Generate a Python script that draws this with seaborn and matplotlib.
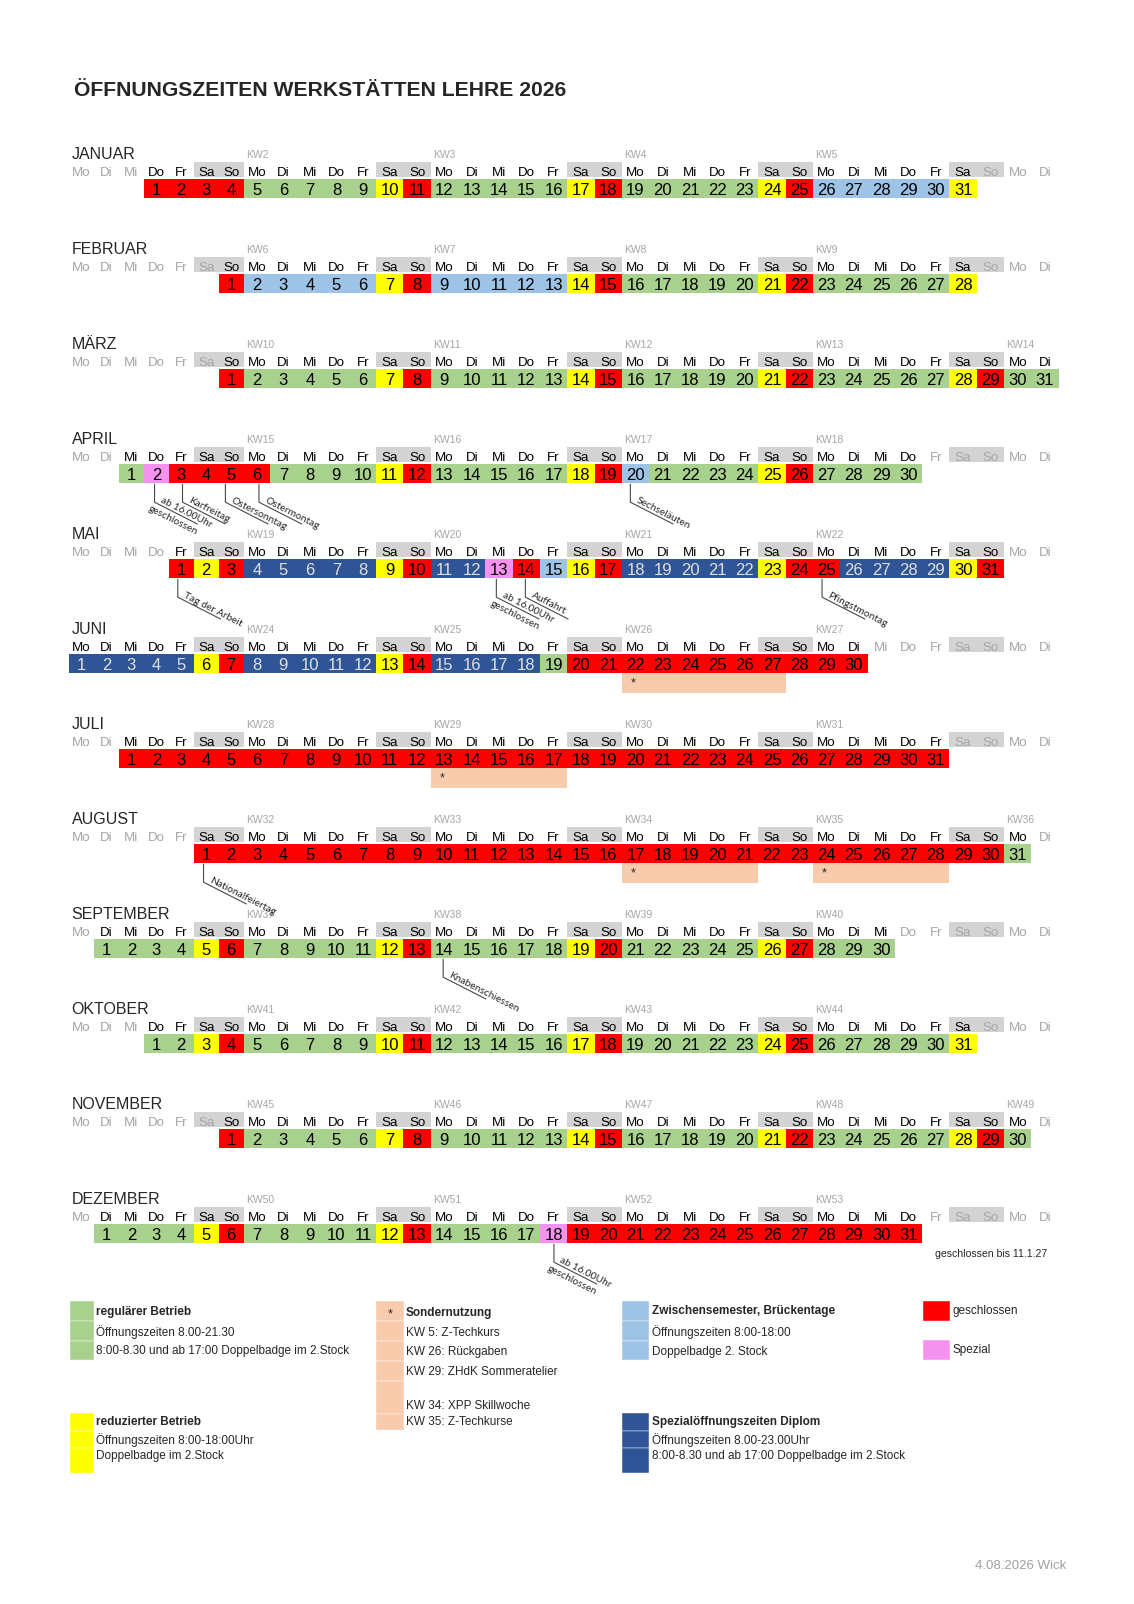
import numpy as np
import pandas as pd
import seaborn as sns
import matplotlib
matplotlib.use('Agg')
import matplotlib.pyplot as plt

# --- data -----------------------------------------------------------------
months = ['JANUAR', 'FEBRUAR', 'MÄRZ', 'APRIL', 'MAI', 'JUNI', 'JULI',
          'AUGUST', 'SEPTEMBER', 'OKTOBER', 'NOVEMBER', 'DEZEMBER']
first_weekday = [3, 6, 6, 2, 4, 0, 2, 5, 1, 3, 6, 1]   # Mo=0 of the 1st
weekday_names = ['Mo', 'Di', 'Mi', 'Do', 'Fr', 'Sa', 'So']

# one letter per day: G regulär, Y reduziert, R geschlossen,
# B Zwischensemester, D Diplom, P Spezial
day_status = [
    'RRRRGGGGGYRGGGGGYRGGGGGYRBBBBBY',
    'RBBBBBYRBBBBBYRGGGGGYRGGGGGY',
    'RGGGGGYRGGGGGYRGGGGGYRGGGGGYRGG',
    'GPRRRRGGGGYRGGGGGYRBGGGGYRGGGG',
    'RYRDDDDDYRDDPRBYRDDDDDYRRDDDDYR',
    'DDDDDYRDDDDDYRDDDDGRRRRRRRRRRR',
    'RRRRRRRRRRRRRRRRRRRRRRRRRRRRRRR',
    'RRRRRRRRRRRRRRRRRRRRRRRRRRRRRRG',
    'GGGGYRGGGGGYRGGGGGYRGGGGGYRGGG',
    'GGYRGGGGGYRGGGGGYRGGGGGYRGGGGGY',
    'RGGGGGYRGGGGGYRGGGGGYRGGGGGYRG',
    'GGGGYRGGGGGYRGGGGPRRRRRRRRRRRRR',
]

kw_numbers = [[2, 3, 4, 5], [6, 7, 8, 9], [10, 11, 12, 13, 14], [15, 16, 17, 18],
              [19, 20, 21, 22], [24, 25, 26, 27], [28, 29, 30, 31],
              [32, 33, 34, 35, 36], [37, 38, 39, 40], [41, 42, 43, 44],
              [45, 46, 47, 48, 49], [50, 51, 52, 53]]

# Sondernutzung: month index, first day, last day
special_use_month = [5, 6, 7, 7]
special_use_from = [22, 13, 17, 24]
special_use_to = [27, 17, 21, 28]

# notes below single days: month index, day, text, second line
note_month = [3, 3, 3, 3, 3, 4, 4, 4, 4, 7, 8, 11]
note_day = [2, 3, 5, 6, 20, 1, 13, 14, 25, 1, 14, 18]
note_text = ['ab 16.00Uhr', 'Karfreitag', 'Ostersonntag', 'Ostermontag',
             'Sechseläuten', 'Tag der Arbeit', 'ab 16.00Uhr', 'Auffahrt',
             'Pfingstmontag', 'Nationalfeiertag', 'Knabenschiessen',
             'ab 16.00Uhr']
note_text2 = ['geschlossen', '', '', '', '', '', 'geschlossen', '', '', '', '',
              'geschlossen']

legend_regular = ['regulärer Betrieb', 'Öffnungszeiten 8.00-21.30',
                  '8:00-8.30 und ab 17:00 Doppelbadge im 2.Stock']
legend_reduced = ['reduzierter Betrieb', 'Öffnungszeiten 8:00-18:00Uhr',
                  'Doppelbadge im 2.Stock']
legend_special = ['Sondernutzung', 'KW 5: Z-Techkurs', 'KW 26: Rückgaben',
                  'KW 29: ZHdK Sommeratelier', 'KW 34: XPP Skillwoche',
                  'KW 35: Z-Techkurse']
legend_between = ['Zwischensemester, Brückentage', 'Öffnungszeiten 8:00-18:00',
                  'Doppelbadge 2. Stock']
legend_diplom = ['Spezialöffnungszeiten Diplom', 'Öffnungszeiten 8.00-23.00Uhr',
                 '8:00-8.30 und ab 17:00 Doppelbadge im 2.Stock']

# --- style ----------------------------------------------------------------
sns.set_theme(style='white')
plt.rcParams['font.family'] = ['Liberation Sans', 'DejaVu Sans']

colors = {'G': '#A9D18E', 'Y': '#FFFF00', 'R': '#FF0000', 'B': '#9DC3E6',
          'D': '#2F5597', 'P': '#F592F0'}
salmon = '#F8CBAD'
head_gray = '#D3D3D3'
text_gray = '#A6A6A6'

# where the leader line leaves each noted cell (px from cell's left edge)
note_dx = [10.7, 13.7, 6.7, 15.3, 8.5, 9, 11, 12.7, 9.1, 9.8, 12.4, 14]

fig = plt.figure(figsize=(11.34, 16.04), dpi=100)
ax = fig.add_axes([0, 0, 1, 1])
ax.set_xlim(0, 1134)
ax.set_ylim(1604, 0)
ax.axis('off')

col_w = np.array([24.95] * 7 + [26.5] * 5 + [27.3] * 25)
col_left = 69 + np.concatenate([[0], np.cumsum(col_w)[:-1]])
col_mid = col_left + col_w / 2
weekend = np.array([c for c in range(37) if c % 7 in (5, 6)])

# table of all days
rows = []
for m, s in enumerate(day_status):
    for d, code in enumerate(s, start=1):
        rows.append({'month': m, 'day': d, 'col': first_weekday[m] + d - 1,
                     'status': code})
days = pd.DataFrame(rows)

row0 = 169.7
step = 95.0


def base(m):
    return row0 + step * m


ax.text(74, 96, 'ÖFFNUNGSZEITEN WERKSTÄTTEN LEHRE 2026', fontsize=15.2,
        fontweight='bold', va='baseline', ha='left')

for m, name in enumerate(months):
    b = base(m)
    ax.text(71.5, b - 11, name, fontsize=11.5, va='baseline', ha='left')
    for k, kw in enumerate(kw_numbers[m]):
        c = 7 * (k + 1)
        ax.text(col_left[c] + 2.5, b - 11.5, f'KW{kw}', fontsize=7.5,
                color=text_gray, va='baseline', ha='left')
    # weekday header
    ax.bar(col_left[weekend], 15.3, width=col_w[weekend], bottom=b - 7.7,
           align='edge', color=head_gray, linewidth=0)
    first = first_weekday[m]
    last = first + len(day_status[m]) - 1
    for c in range(37):
        inside = first <= c <= last
        ax.text(col_mid[c], b + 6, weekday_names[c % 7], fontsize=9.6,
                color='black' if inside else text_gray, ha='center',
                va='baseline')
    # day cells
    md = days[days.month == m]
    ax.bar(col_left[md.col], 19.3, width=col_w[md.col], bottom=b + 9.3,
           align='edge', color=[colors[s] for s in md.status], linewidth=0)
    for _, r in md.iterrows():
        ax.text(col_mid[r.col], b + 25.6, str(r.day), fontsize=12,
                color='#E0E0E0' if r.status == 'D' else 'black',
                ha='center', va='baseline')

# Sondernutzung bars
for m, d0, d1 in zip(special_use_month, special_use_from, special_use_to):
    b = base(m)
    c0 = first_weekday[m] + d0 - 1
    c1 = first_weekday[m] + d1 - 1
    ax.bar(col_left[c0], 19.4, width=col_left[c1] + col_w[c1] - col_left[c0],
           bottom=b + 28.6, align='edge', color=salmon, linewidth=0)
    ax.text(col_mid[c0] - 2, b + 42, '*', fontsize=9, ha='center',
            va='baseline')

# notes with leader lines
ang = np.deg2rad(27)
note_font = ['Lato', 'DejaVu Sans']
for m, d, t1, t2, dx in zip(note_month, note_day, note_text, note_text2,
                            note_dx):
    b = base(m)
    c = first_weekday[m] + d - 1
    x0 = col_left[c] + dx
    y0 = b + 29.5
    y1 = y0 + 18
    length = 48
    x2 = x0 + length * np.cos(ang)
    y2 = y1 + length * np.sin(ang)
    ax.plot([x0, x0, x2], [y0, y1, y2], color='#4a4a4a', lw=0.8)
    tx = x0 + 5 * np.cos(ang)
    ty = y1 + 5 * np.sin(ang) - 0.5
    ax.text(tx, ty, t1, rotation=-27, rotation_mode='anchor', ha='left',
            va='bottom', fontsize=7.4, family=note_font, color='#262626')
    if t2:
        ax.text(x0 - 4, y1 + 2, t2, rotation=-27, rotation_mode='anchor',
                ha='left', va='top', fontsize=7.4, family=note_font,
                color='#262626')

ax.text(935, 1254.3, 'geschlossen bis 11.1.27', fontsize=7.6, ha='left',
        va='center')


# --- legend ---------------------------------------------------------------
def legend_box(x0, x1, y_edges, color):
    y_edges = np.array(y_edges)
    ax.bar(np.full(len(y_edges) - 1, x0), np.diff(y_edges), width=x1 - x0,
           bottom=y_edges[:-1], align='edge', color=color,
           edgecolor='white', linewidth=0.3)


def legend_text(x, ys, lines):
    for i, (y, t) in enumerate(zip(ys, lines)):
        ax.text(x, y, t, fontsize=8.5, ha='left', va='center',
                fontweight='bold' if i == 0 else 'normal')


legend_box(70.3, 93.7, [1300.7, 1321, 1341, 1360], colors['G'])
legend_text(96.2, [1311.7, 1331.7, 1351], legend_regular)

legend_box(70, 94, [1413.3, 1431, 1448, 1472.7], colors['Y'])
legend_text(96.2, [1422.3, 1440, 1456], legend_reduced)

legend_box(376, 403.7, [1300.7, 1321, 1341, 1361, 1381, 1414, 1430], salmon)
ax.text(390.6, 1317, '*', fontsize=9, ha='center', va='baseline')
legend_text(406, [1312.7, 1332.7, 1351.7, 1371.7, 1405.7, 1421.7],
            legend_special)

legend_box(622.3, 649.3, [1300.7, 1321, 1341, 1360], colors['B'])
legend_text(652.3, [1310.7, 1331.7, 1351.7], legend_between)

legend_box(622.3, 649.3, [1413.3, 1431, 1448, 1473], colors['D'])
legend_text(652.3, [1421.7, 1440, 1456], legend_diplom)

legend_box(922.7, 950, [1300.7, 1321], colors['R'])
ax.text(952.7, 1310.7, 'geschlossen', fontsize=8.5, ha='left', va='center')
legend_box(922.7, 950, [1340, 1360], colors['P'])
ax.text(952.7, 1350, 'Spezial', fontsize=8.5, ha='left', va='center')

ax.text(1066, 1566, '4.08.2026 Wick', fontsize=9.5, color='#A0A0A0',
        ha='right', va='center')

fig.savefig('out.png', dpi=100)
